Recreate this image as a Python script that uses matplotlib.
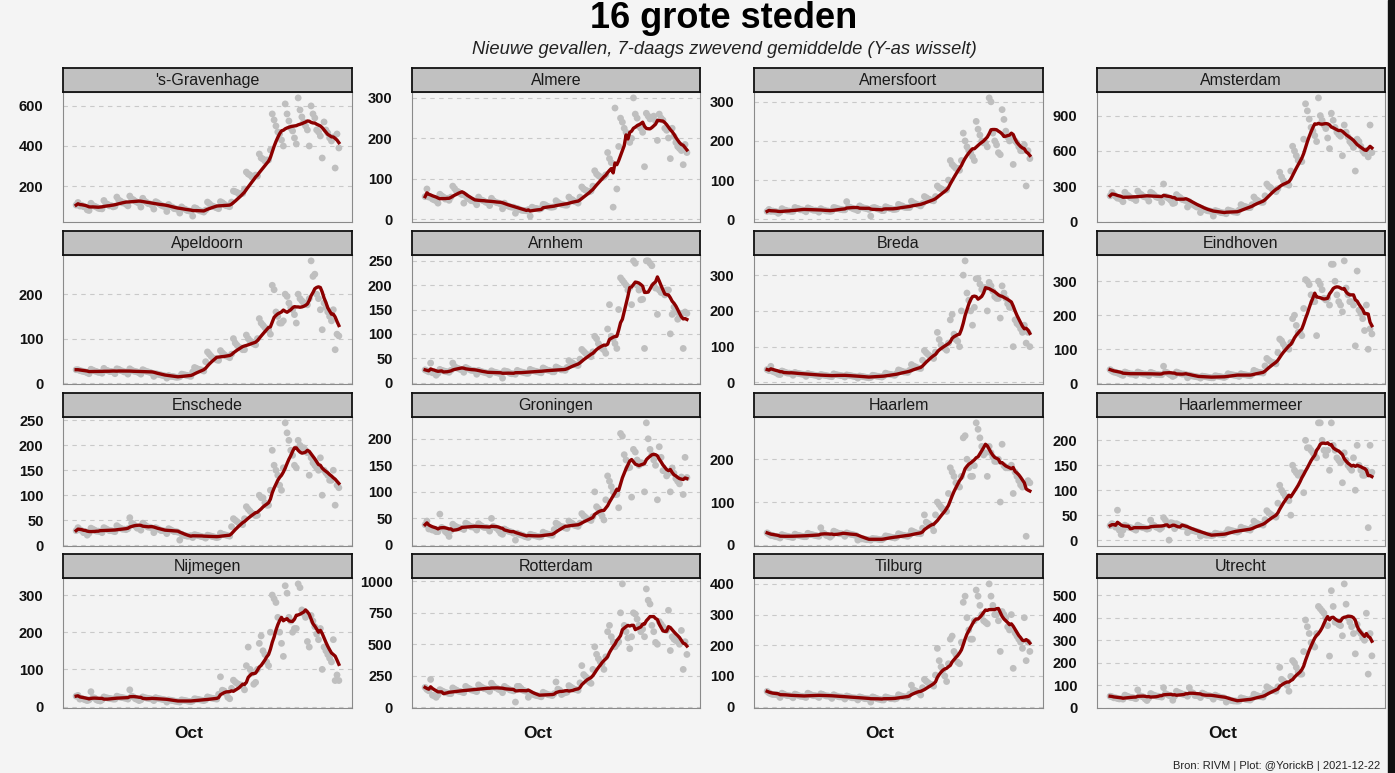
import numpy as np
import pandas as pd
import matplotlib
matplotlib.use("Agg")
import matplotlib.pyplot as plt
from matplotlib.patches import Rectangle

plt.rcParams["font.family"] = ["Liberation Sans", "DejaVu Sans"]

# daily new cases per city, 2021-08-01 .. 2021-12-21 (one week per row)
DATES = pd.date_range("2021-08-01", "2021-12-21", freq="D")

GRAVENHAGE = [
    105, 118, 100, 104, 97, 95, 81,
    78, 114, 103, 99, 95, 89, 87,
    86, 128, 113, 109, 101, 102, 96,
    99, 145, 130, 125, 116, 116, 109,
    101, 150, 136, 131, 124, 119, 114,
    95, 139, 125, 119, 112, 111, 104,
    85, 122, 117, 110, 104, 100, 97,
    73, 108, 98, 95, 87, 86, 83,
    65, 96, 87, 84, 78, 76, 74,
    50, 92, 88, 80, 76, 74, 70,
    80, 120, 112, 103, 99, 95, 91,
    87, 122, 117, 110, 102, 100, 97,
    120, 175, 172, 168, 160, 162, 163,
    185, 270, 260, 255, 245, 245, 255,
    250, 360, 340, 335, 325, 330, 330,
    380, 560, 530, 500, 470, 460, 430,
    400, 610, 560, 525, 490, 475, 440,
    410, 640, 580, 545, 520, 500, 480,
    400, 600, 560, 540, 480, 470, 450,
    340, 520, 480, 465, 440, 425, 445,
    290, 460, 390]
ALMERE = [
    56, 75, 55, 55, 50, 48, 46,
    40, 62, 58, 55, 50, 52, 47,
    55, 82, 76, 70, 68, 64, 61,
    40, 58, 52, 50, 46, 47, 43,
    36, 55, 49, 47, 45, 42, 41,
    34, 52, 46, 43, 41, 40, 38,
    26, 40, 34, 33, 31, 30, 30,
    15, 27, 24, 23, 22, 22, 21,
    24, 8, 30, 28, 27, 26, 25,
    27, 37, 36, 33, 31, 30, 30,
    31, 46, 42, 39, 37, 36, 35,
    35, 55, 50, 48, 44, 43, 40,
    55, 80, 75, 72, 70, 68, 70,
    82, 120, 112, 108, 105, 103, 105,
    110, 165, 150, 140, 30, 275, 75,
    180, 250, 240, 225, 215, 205, 190,
    200, 300, 260, 250, 230, 225, 215,
    130, 262, 255, 248, 252, 255, 243,
    195, 260, 250, 245, 225, 220, 201,
    150, 225, 205, 190, 180, 175, 170,
    135, 185, 165]
AMERSFOORT = [
    20, 25, 20, 21, 20, 19, 15,
    18, 27, 24, 23, 21, 21, 20,
    20, 30, 28, 27, 24, 24, 22,
    19, 29, 27, 25, 23, 23, 22,
    18, 27, 24, 23, 21, 21, 20,
    21, 30, 29, 27, 26, 25, 24,
    24, 45, 32, 30, 28, 26, 25,
    22, 34, 31, 29, 28, 27, 25,
    8, 29, 30, 28, 26, 25, 22,
    22, 32, 30, 28, 27, 25, 25,
    26, 38, 35, 34, 31, 30, 30,
    30, 46, 42, 40, 38, 36, 34,
    40, 58, 55, 52, 50, 48, 47,
    58, 85, 80, 78, 75, 74, 75,
    100, 150, 140, 135, 130, 130, 125,
    150, 220, 200, 185, 175, 170, 160,
    150, 250, 230, 215, 200, 195, 195,
    185, 310, 300, 220, 200, 190, 170,
    165, 280, 255, 225, 210, 200, 205,
    140, 200, 195, 185, 175, 175, 190,
    85, 175, 155]
AMSTERDAM = [
    220, 250, 230, 215, 200, 200, 190,
    170, 250, 230, 220, 205, 200, 195,
    180, 260, 240, 230, 215, 210, 205,
    175, 250, 240, 225, 210, 205, 200,
    165, 320, 215, 205, 195, 180, 155,
    160, 230, 215, 205, 190, 185, 180,
    125, 170, 155, 145, 135, 125, 125,
    78, 112, 104, 99, 93, 91, 88,
    48, 95, 90, 85, 78, 76, 74,
    68, 100, 94, 90, 83, 82, 78,
    100, 145, 135, 130, 125, 120, 120,
    145, 210, 190, 180, 170, 165, 165,
    220, 320, 300, 290, 275, 265, 255,
    280, 420, 380, 350, 320, 320, 310,
    430, 640, 600, 560, 520, 520, 510,
    700, 1000, 940, 870, 800, 770, 730,
    680, 1050, 900, 860, 820, 790, 710,
    620, 920, 860, 800, 760, 740, 725,
    560, 820, 760, 720, 680, 660, 630,
    430, 700, 680, 640, 600, 580, 605,
    550, 820, 586]
APELDOORN = [
    30, 30, 28, 27, 26, 25, 23,
    21, 31, 29, 27, 26, 24, 24,
    22, 33, 29, 28, 26, 26, 25,
    21, 32, 31, 28, 27, 25, 25,
    20, 32, 29, 27, 26, 25, 23,
    20, 30, 28, 26, 25, 24, 22,
    15, 21, 20, 19, 18, 17, 16,
    11, 17, 15, 15, 14, 13, 13,
    14, 20, 19, 18, 17, 16, 15,
    25, 35, 33, 31, 30, 29, 27,
    48, 70, 65, 60, 56, 55, 52,
    51, 73, 68, 64, 61, 60, 57,
    65, 100, 90, 85, 80, 79, 75,
    75, 108, 100, 95, 92, 88, 86,
    100, 145, 135, 130, 125, 120, 120,
    110, 220, 210, 160, 150, 135, 135,
    140, 200, 195, 180, 170, 165, 154,
    135, 200, 190, 185, 180, 180, 176,
    190, 275, 240, 245, 200, 190, 165,
    120, 180, 170, 160, 150, 140, 165,
    75, 110, 106]
ARNHEM = [
    26, 24, 22, 40, 20, 21, 15,
    19, 27, 25, 24, 23, 22, 21,
    25, 40, 33, 30, 29, 27, 26,
    21, 31, 29, 27, 25, 25, 24,
    17, 25, 23, 22, 21, 20, 19,
    16, 24, 22, 21, 20, 19, 18,
    9, 24, 23, 22, 19, 18, 18,
    17, 25, 23, 22, 21, 20, 19,
    19, 27, 25, 24, 23, 22, 21,
    20, 30, 28, 26, 25, 24, 22,
    22, 32, 30, 28, 26, 26, 25,
    31, 45, 42, 40, 37, 36, 35,
    48, 68, 64, 60, 57, 56, 53,
    63, 95, 90, 80, 74, 70, 67,
    60, 110, 160, 95, 90, 80, 70,
    150, 215, 210, 205, 200, 190, 195,
    160, 250, 245, 200, 190, 170, 171,
    70, 250, 250, 245, 240, 200, 194,
    140, 190, 185, 185, 180, 190, 190,
    100, 140, 155, 145, 130, 135, 140,
    70, 145, 142]
BREDA = [
    36, 33, 45, 31, 29, 27, 23,
    22, 32, 30, 28, 26, 26, 25,
    20, 28, 26, 25, 24, 23, 22,
    17, 25, 23, 22, 21, 20, 19,
    16, 22, 21, 20, 19, 18, 17,
    16, 24, 22, 21, 20, 19, 18,
    15, 21, 20, 19, 18, 17, 16,
    12, 18, 17, 16, 15, 14, 13,
    14, 20, 19, 18, 17, 16, 15,
    18, 26, 24, 23, 22, 21, 20,
    25, 35, 33, 31, 29, 29, 28,
    34, 50, 46, 44, 41, 40, 39,
    62, 89, 83, 78, 74, 72, 67,
    85, 140, 120, 105, 100, 95, 90,
    110, 175, 190, 135, 120, 115, 100,
    200, 300, 340, 250, 230, 200, 160,
    210, 290, 290, 275, 260, 265, 265,
    200, 280, 270, 255, 240, 235, 235,
    180, 270, 250, 235, 220, 210, 210,
    100, 175, 165, 160, 150, 140, 160,
    110, 140, 100]
EINDHOVEN = [
    40, 36, 33, 32, 30, 28, 25,
    23, 33, 31, 29, 27, 27, 26,
    23, 33, 31, 29, 27, 27, 26,
    22, 32, 30, 28, 26, 26, 25,
    25, 50, 33, 31, 27, 24, 20,
    23, 33, 31, 29, 27, 27, 26,
    16, 24, 22, 21, 20, 19, 18,
    15, 21, 20, 19, 18, 17, 16,
    16, 22, 21, 20, 19, 18, 17,
    20, 28, 26, 25, 24, 23, 22,
    20, 28, 26, 25, 24, 23, 22,
    26, 38, 35, 33, 31, 31, 30,
    51, 73, 68, 64, 61, 60, 57,
    90, 130, 125, 115, 105, 105, 100,
    120, 190, 200, 170, 150, 150, 140,
    220, 305, 300, 290, 260, 240, 240,
    140, 300, 290, 275, 250, 245, 250,
    230, 350, 350, 300, 260, 240, 230,
    210, 360, 280, 260, 240, 240, 230,
    110, 330, 215, 205, 190, 155, 230,
    100, 160, 145]
ENSCHEDE = [
    29, 35, 31, 29, 25, 27, 20,
    24, 34, 32, 30, 28, 28, 27,
    25, 35, 33, 31, 29, 29, 28,
    27, 39, 36, 34, 32, 32, 31,
    33, 55, 44, 42, 38, 34, 34,
    30, 44, 41, 38, 36, 36, 34,
    25, 35, 33, 31, 29, 29, 28,
    23, 33, 31, 29, 27, 27, 26,
    10, 22, 20, 19, 18, 18, 19,
    15, 21, 20, 19, 18, 17, 16,
    14, 20, 19, 18, 17, 16, 15,
    16, 24, 22, 21, 20, 19, 18,
    37, 53, 50, 47, 44, 43, 41,
    53, 77, 72, 68, 64, 62, 59,
    60, 100, 95, 95, 85, 80, 80,
    110, 190, 160, 150, 140, 120, 110,
    155, 245, 225, 210, 190, 180, 160,
    155, 210, 200, 195, 195, 190, 185,
    140, 175, 165, 160, 155, 150, 175,
    100, 150, 145, 140, 130, 130, 150,
    80, 120, 115]
GRONINGEN = [
    38, 45, 30, 30, 28, 28, 25,
    25, 58, 33, 31, 25, 22, 16,
    27, 39, 36, 34, 32, 32, 31,
    29, 41, 39, 36, 34, 34, 32,
    28, 40, 37, 35, 33, 33, 32,
    26, 50, 35, 33, 31, 27, 22,
    20, 30, 28, 26, 25, 24, 22,
    9, 22, 20, 19, 18, 16, 15,
    14, 20, 19, 18, 17, 16, 15,
    16, 24, 22, 21, 20, 19, 18,
    29, 41, 39, 36, 34, 34, 32,
    31, 45, 42, 40, 37, 36, 35,
    41, 59, 55, 52, 49, 48, 46,
    53, 100, 72, 68, 60, 55, 47,
    85, 130, 120, 110, 100, 95, 95,
    70, 210, 205, 170, 160, 145, 146,
    90, 180, 175, 160, 150, 155, 154,
    100, 230, 200, 180, 170, 160, 150,
    85, 185, 165, 140, 140, 130, 135,
    100, 145, 135, 125, 120, 115, 128,
    95, 165, 127]
HAARLEM = [
    28, 25, 22, 22, 20, 19, 18,
    16, 24, 22, 21, 20, 19, 18,
    17, 25, 23, 22, 21, 20, 19,
    19, 27, 25, 24, 23, 22, 21,
    20, 40, 28, 26, 22, 21, 18,
    22, 32, 30, 28, 26, 26, 25,
    20, 28, 26, 25, 24, 23, 22,
    11, 15, 14, 14, 13, 12, 12,
    11, 15, 14, 14, 13, 12, 12,
    15, 21, 20, 19, 18, 17, 16,
    18, 26, 24, 23, 22, 21, 20,
    23, 33, 31, 29, 27, 27, 26,
    39, 70, 53, 50, 47, 44, 33,
    70, 100, 94, 88, 83, 82, 78,
    120, 180, 170, 160, 145, 140, 135,
    160, 250, 255, 200, 180, 160, 160,
    185, 285, 270, 250, 230, 210, 215,
    160, 230, 215, 205, 195, 195, 200,
    100, 235, 185, 180, 180, 180, 186,
    120, 170, 160, 150, 140, 135, 140,
    20, 150, 145]
HAARLEMMERMEER = [
    29, 33, 31, 26, 60, 20, 11,
    20, 30, 28, 26, 25, 24, 22,
    20, 30, 28, 26, 25, 24, 22,
    23, 40, 31, 29, 26, 25, 22,
    25, 45, 40, 31, 0, 35, 34,
    23, 33, 31, 29, 27, 27, 26,
    15, 21, 20, 19, 18, 17, 16,
    8, 12, 11, 10, 10, 10, 9,
    10, 14, 13, 12, 12, 11, 12,
    15, 21, 20, 19, 18, 17, 16,
    18, 26, 24, 23, 22, 21, 20,
    26, 38, 35, 33, 31, 31, 30,
    41, 59, 55, 52, 49, 48, 46,
    74, 110, 100, 94, 88, 85, 79,
    50, 150, 140, 135, 130, 135, 135,
    95, 200, 185, 185, 180, 175, 170,
    165, 235, 235, 200, 180, 170, 180,
    140, 235, 190, 180, 165, 160, 155,
    115, 175, 160, 150, 145, 140, 165,
    100, 190, 150, 140, 130, 130, 140,
    25, 190, 136]
NIJMEGEN = [
    28, 30, 20, 22, 20, 18, 16,
    18, 40, 24, 23, 18, 16, 15,
    18, 26, 24, 23, 22, 21, 20,
    20, 28, 26, 25, 24, 23, 22,
    20, 45, 28, 26, 21, 19, 16,
    18, 26, 24, 23, 22, 21, 20,
    16, 24, 22, 21, 20, 19, 18,
    12, 18, 17, 16, 15, 14, 13,
    12, 18, 17, 16, 15, 14, 13,
    15, 21, 20, 19, 18, 17, 16,
    18, 26, 24, 23, 22, 21, 20,
    33, 80, 44, 42, 35, 25, 21,
    49, 71, 66, 62, 59, 58, 55,
    45, 110, 160, 100, 90, 60, 65,
    100, 170, 190, 150, 140, 120, 110,
    200, 300, 290, 280, 240, 200, 170,
    135, 325, 305, 240, 230, 200, 210,
    210, 330, 320, 260, 250, 240, 175,
    160, 245, 230, 215, 195, 180, 210,
    100, 160, 150, 140, 130, 120, 180,
    70, 85, 70]
ROTTERDAM = [
    157, 140, 130, 220, 95, 90, 78,
    97, 139, 130, 123, 116, 113, 108,
    107, 153, 143, 135, 127, 125, 120,
    115, 165, 154, 146, 137, 134, 129,
    123, 177, 165, 156, 147, 144, 138,
    125, 190, 170, 155, 150, 140, 134,
    115, 165, 154, 146, 137, 134, 129,
    40, 165, 165, 150, 135, 130, 125,
    78, 112, 105, 99, 93, 91, 87,
    82, 118, 110, 104, 98, 96, 92,
    107, 200, 143, 135, 100, 110, 115,
    119, 171, 160, 151, 142, 139, 133,
    193, 330, 259, 244, 230, 200, 189,
    300, 480, 420, 385, 360, 345, 300,
    400, 600, 650, 560, 520, 480, 500,
    520, 750, 980, 650, 600, 550, 465,
    560, 750, 740, 700, 650, 600, 620,
    560, 940, 850, 820, 650, 600, 515,
    500, 680, 660, 640, 620, 610, 770,
    450, 560, 540, 530, 520, 500, 610,
    300, 520, 419]
TILBURG = [
    50, 45, 42, 40, 40, 40, 37,
    30, 44, 41, 38, 36, 36, 34,
    29, 41, 39, 36, 34, 34, 32,
    30, 44, 41, 38, 36, 36, 34,
    30, 42, 40, 37, 35, 35, 33,
    27, 39, 36, 34, 32, 32, 31,
    25, 35, 33, 31, 29, 29, 28,
    22, 32, 30, 28, 26, 26, 25,
    15, 32, 30, 27, 25, 24, 22,
    22, 32, 30, 28, 26, 26, 25,
    27, 39, 36, 34, 32, 32, 31,
    41, 70, 55, 52, 49, 45, 38,
    62, 89, 83, 78, 74, 72, 67,
    103, 190, 150, 130, 120, 100, 82,
    140, 220, 230, 180, 170, 145, 140,
    210, 340, 360, 290, 250, 220, 220,
    280, 380, 360, 330, 300, 280, 275,
    270, 400, 360, 330, 300, 300, 280,
    180, 310, 300, 290, 260, 250, 300,
    125, 240, 230, 220, 210, 190, 290,
    150, 210, 180]
UTRECHT = [
    52, 50, 45, 45, 42, 40, 41,
    39, 57, 53, 50, 47, 46, 44,
    41, 80, 55, 52, 49, 40, 33,
    44, 64, 59, 56, 53, 52, 50,
    48, 90, 64, 60, 55, 55, 34,
    52, 74, 69, 66, 62, 60, 58,
    52, 90, 69, 66, 55, 55, 54,
    46, 66, 62, 58, 55, 54, 51,
    39, 57, 53, 50, 47, 46, 44,
    26, 38, 35, 33, 31, 31, 30,
    31, 45, 42, 40, 37, 36, 35,
    43, 61, 57, 54, 51, 50, 48,
    66, 94, 88, 83, 78, 77, 74,
    94, 180, 127, 120, 110, 100, 74,
    140, 210, 200, 180, 160, 150, 150,
    250, 390, 360, 330, 290, 280, 270,
    330, 450, 440, 430, 420, 400, 365,
    230, 520, 450, 380, 380, 370, 365,
    320, 550, 460, 400, 380, 360, 330,
    240, 370, 340, 330, 310, 300, 420,
    150, 330, 231]

CITIES = ["'s-Gravenhage", "Almere", "Amersfoort", "Amsterdam",
          "Apeldoorn", "Arnhem", "Breda", "Eindhoven",
          "Enschede", "Groningen", "Haarlem", "Haarlemmermeer",
          "Nijmegen", "Rotterdam", "Tilburg", "Utrecht"]
SERIES = [GRAVENHAGE, ALMERE, AMERSFOORT, AMSTERDAM,
          APELDOORN, ARNHEM, BREDA, EINDHOVEN,
          ENSCHEDE, GRONINGEN, HAARLEM, HAARLEMMERMEER,
          NIJMEGEN, ROTTERDAM, TILBURG, UTRECHT]
YTICKS = [[200, 400, 600], [0, 100, 200, 300], [0, 100, 200, 300], [0, 300, 600, 900],
          [0, 100, 200], [0, 50, 100, 150, 200, 250], [0, 100, 200, 300], [0, 100, 200, 300],
          [0, 50, 100, 150, 200, 250], [0, 50, 100, 150, 200], [0, 100, 200], [0, 50, 100, 150, 200],
          [0, 100, 200, 300], [0, 250, 500, 750, 1000], [0, 100, 200, 300, 400],
          [0, 100, 200, 300, 400, 500]]

# layout in pixels of the 1395x773 canvas
W, H = 1395, 773
COL_X = [(63, 352), (412, 700), (754, 1043), (1097, 1385)]
ROW_Y = [(92, 222), (255, 384), (417, 546), (578, 708)]
STRIP_H = 24

BG = "#f4f4f4"
fig = plt.figure(figsize=(W / 100, H / 100), dpi=100, facecolor=BG)

pad_days = pd.Timedelta(days=0.05 * (DATES[-1] - DATES[0]).days)
oct1 = pd.Timestamp("2021-10-01")

for i, (city, vals, ticks) in enumerate(zip(CITIES, SERIES, YTICKS)):
    r, c = divmod(i, 4)
    x0, x1 = COL_X[c]
    y0, y1 = ROW_Y[r]
    ax = fig.add_axes([x0 / W, 1 - y1 / H, (x1 - x0) / W, (y1 - y0) / H])
    ax.set_facecolor("#f3f3f3")

    s = pd.Series(vals, index=DATES[:len(vals)])
    avg = s.rolling(7, min_periods=1).mean()
    ax.scatter(s.index, s.values, s=24, color="#bfbfbf", edgecolors="none", zorder=2)
    ax.plot(avg.index, avg.values, color="#8b0000", lw=2.4, zorder=3,
            solid_joinstyle="round")

    lo, hi = min(vals), max(vals)
    ext = 0.05 * (hi - lo)
    ax.set_yticks(ticks)
    ax.set_yticklabels([str(t) for t in ticks], fontweight="bold", fontsize=10.5)
    ax.set_ylim(lo - ext, hi + ext)
    ax.set_xlim(DATES[0] - pad_days, DATES[-1] + pad_days)
    ax.set_xticks([oct1])
    ax.set_xticklabels(["Oct"] if r == 3 else [""], fontweight="bold", fontsize=12.5)
    ax.tick_params(axis="y", length=0, pad=14, colors="#111111")
    ax.tick_params(axis="x", length=0, pad=13, colors="#111111")
    ax.grid(axis="y", color="#c9c9c9", linestyle=(0, (4, 4)), lw=0.8)
    ax.set_axisbelow(True)
    for sp in ax.spines.values():
        sp.set_color("#8a8a8a")
        sp.set_linewidth(0.8)

    sax = fig.add_axes([x0 / W, 1 - y0 / H, (x1 - x0) / W, STRIP_H / H])
    sax.set_facecolor("#c1c1c1")
    sax.set_xticks([])
    sax.set_yticks([])
    for sp in sax.spines.values():
        sp.set_color("#111111")
        sp.set_linewidth(1.3)
    sax.text(0.5, 0.48, city, ha="center", va="center", fontsize=11.5,
             color="#1a1a1a", transform=sax.transAxes)

fig.text(724 / W, 1 - 19 / H, "16 grote steden", ha="center", va="center",
         fontsize=26, fontweight="bold")
fig.text(724 / W, 1 - 50 / H, "Nieuwe gevallen, 7-daags zwevend gemiddelde (Y-as wisselt)",
         ha="center", va="center", fontsize=13.2, style="italic", color="#222222")
fig.text(1380 / W, 2 / H, "Bron: RIVM | Plot: @YorickB | 2021-12-22",
         ha="right", va="bottom", fontsize=8, color="#222222")

# dark edge on the right side of the original screenshot
fig.patches.append(Rectangle((1388 / W, 0), 7 / W, 1, transform=fig.transFigure,
                             color="#111111", zorder=10))

fig.savefig("out.png", dpi=100, facecolor=BG)
